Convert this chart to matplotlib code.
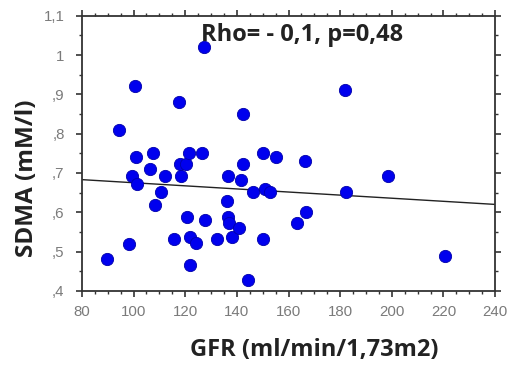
import matplotlib
matplotlib.use("Agg")
import matplotlib.pyplot as plt
from matplotlib.ticker import MultipleLocator, FixedLocator

gfr = [89.6, 94.3, 98.2, 99.3, 100.5, 100.8, 101.4, 106.4, 107.5, 108.3,
       110.6, 112.2, 115.5, 117.6, 118.1, 118.3, 120.4, 120.5, 121.5, 121.9,
       121.7, 124.2, 126.4, 127.2, 127.7, 132.2, 136.1, 136.7, 136.7, 137.1,
       138.3, 141.0, 141.7, 142.2, 142.5, 144.5, 146.1, 150.1, 150.3, 150.9,
       152.8, 155.0, 163.4, 166.2, 166.8, 181.8, 182.3, 198.4, 220.7]
sdma = [0.480, 0.810, 0.520, 0.693, 0.920, 0.740, 0.671, 0.710, 0.750, 0.618,
        0.651, 0.693, 0.532, 0.880, 0.722, 0.693, 0.722, 0.589, 0.750, 0.538,
        0.467, 0.521, 0.750, 1.020, 0.580, 0.532, 0.629, 0.693, 0.589, 0.572,
        0.538, 0.561, 0.681, 0.849, 0.722, 0.429, 0.651, 0.750, 0.531, 0.658,
        0.651, 0.740, 0.572, 0.731, 0.600, 0.911, 0.651, 0.692, 0.490]

fit_x = [80, 240]
fit_y = [0.683, 0.620]

x_ticks = [80, 100, 120, 140, 160, 180, 200, 220, 240]
y_ticks = [0.4, 0.5, 0.6, 0.7, 0.8, 0.9, 1.0, 1.1]
y_tick_labels = [",4", ",5", ",6", ",7", ",8", ",9", "1", "1,1"]

annotation = "Rho= - 0,1, p=0,48"
xlabel = "GFR (ml/min/1,73m2)"
ylabel = "SDMA (mM/l)"

fig = plt.figure(figsize=(5.12, 3.65), dpi=100)
ax = fig.add_axes([0.160, 0.203, 0.807, 0.754])

ax.plot(fit_x, fit_y, color="#222222", linewidth=1.0, zorder=2)
ax.scatter(gfr, sdma, s=78, color="#0000ee", edgecolors="#0000aa",
           linewidths=0.6, zorder=3)

ax.set_xlim(80, 240)
ax.set_ylim(0.4, 1.1)
ax.xaxis.set_major_locator(FixedLocator(x_ticks))
ax.xaxis.set_minor_locator(MultipleLocator(5))
ax.yaxis.set_major_locator(FixedLocator(y_ticks))
ax.set_yticklabels(y_tick_labels)
ax.yaxis.set_minor_locator(MultipleLocator(0.05))

for sp in ax.spines.values():
    sp.set_color("#333333")
    sp.set_linewidth(1.3)

ax.tick_params(which="both", direction="out", top=True, right=True,
               color="#333333", labelcolor="#7a7a7a", labelsize=10.8)
ax.tick_params(which="major", length=4.5, width=1.2)
ax.tick_params(which="minor", length=2.5, width=1.0)
ax.tick_params(axis="x", which="major", pad=6)
ax.tick_params(axis="y", which="major", pad=8)
for lab in ax.get_xticklabels() + ax.get_yticklabels():
    lab.set_family(["Liberation Sans", "DejaVu Sans"])

ax.text(0.533, 0.972, annotation, transform=ax.transAxes, ha="center",
        va="top", fontsize=17, fontweight="bold", family="Open Sans",
        color="#222222")
ax.set_xlabel(xlabel, fontsize=17, fontweight="bold", family="Open Sans",
              color="#222222")
ax.xaxis.label.set_va("center")
ax.xaxis.set_label_coords(0.563, -0.214)
ax.set_ylabel(ylabel, fontsize=17.5, fontweight="bold", family="Open Sans",
              color="#222222")
ax.yaxis.label.set_va("center")
ax.yaxis.set_label_coords(-0.133, 0.41)

fig.savefig("out.png", dpi=100, facecolor="white")
